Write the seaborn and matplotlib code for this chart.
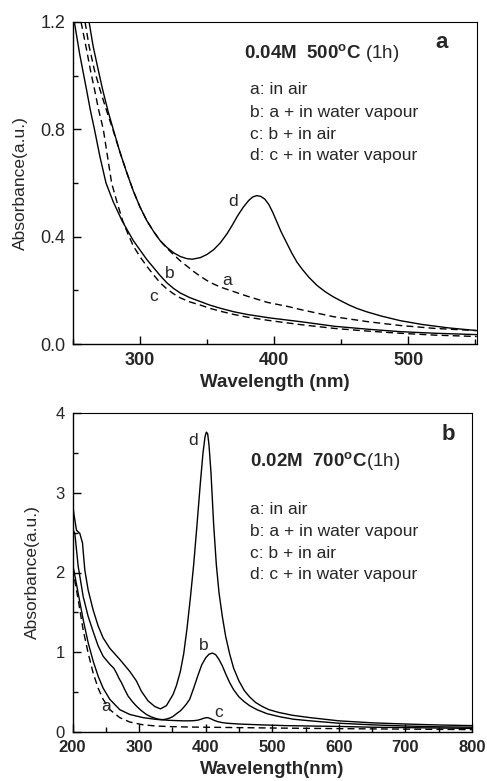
import matplotlib
matplotlib.use("Agg")
import matplotlib.pyplot as plt
from matplotlib.ticker import MultipleLocator, FormatStrFormatter
import seaborn as sns
import pandas as pd

# ---------------- Panel a data (0.04M, 500 C) ----------------
a_top_x = [259, 262, 266, 270, 275, 280, 285, 290, 295, 300, 305, 310, 315, 320, 325, 330, 335, 340, 345,
           352, 360, 370, 380, 395, 410, 420, 444, 470, 494, 520, 551]
a_top_y = [1.2, 1.11, 1.02, 0.95, 0.87, 0.795, 0.715, 0.64, 0.57, 0.51, 0.46, 0.42, 0.385, 0.357, 0.333,
           0.31, 0.29, 0.27, 0.252, 0.23, 0.212, 0.195, 0.178, 0.155, 0.14, 0.128, 0.102, 0.083, 0.069,
           0.058, 0.05]

b_top_x = [251, 255, 260, 263, 266, 270, 274.6, 280, 286.5, 291, 295, 300, 305, 310, 315, 320, 325, 330,
           337, 345, 352, 360, 370, 380, 397, 420, 445, 470, 494, 520, 551]
b_top_y = [1.2, 1.08, 0.95, 0.87, 0.80, 0.70, 0.60, 0.53, 0.46, 0.42, 0.385, 0.35, 0.315, 0.285, 0.255,
           0.228, 0.207, 0.19, 0.173, 0.158, 0.145, 0.133, 0.12, 0.11, 0.097, 0.083, 0.066, 0.055, 0.046,
           0.04, 0.035]

c_top_x = [256, 260, 263, 266, 269, 272.6, 275.7, 278.8, 283, 287, 291, 295, 300, 305, 310, 315, 320, 325,
           330, 337, 345, 352, 360, 370, 380, 397, 420, 445, 470, 494, 520, 551]
c_top_y = [1.2, 1.10, 1.02, 0.95, 0.875, 0.80, 0.70, 0.60, 0.525, 0.46, 0.41, 0.365, 0.325, 0.29, 0.258,
           0.228, 0.205, 0.187, 0.172, 0.157, 0.145, 0.133, 0.122, 0.11, 0.10, 0.087, 0.072, 0.058, 0.048,
           0.04, 0.033, 0.028]

d_top_x = [262, 265, 268, 272, 276, 280, 285, 290, 295, 300, 305, 310, 315, 320, 325, 330, 335, 339, 345,
           350, 355, 360, 365, 369, 373, 377, 381, 384, 387, 390, 393, 396, 399, 402, 405, 409, 413, 417,
           421, 426, 432, 438, 444, 450, 456, 462, 469, 480, 494, 510, 530, 551]
d_top_y = [1.2, 1.11, 1.04, 0.95, 0.87, 0.80, 0.715, 0.64, 0.57, 0.51, 0.46, 0.42, 0.385, 0.36, 0.34,
           0.326, 0.318, 0.316, 0.322, 0.334, 0.352, 0.378, 0.412, 0.445, 0.48, 0.51, 0.535, 0.548, 0.553,
           0.55, 0.54, 0.52, 0.49, 0.455, 0.42, 0.38, 0.34, 0.305, 0.278, 0.248, 0.218, 0.195, 0.176, 0.16,
           0.145, 0.132, 0.12, 0.104, 0.087, 0.073, 0.06, 0.05]

# ---------------- Panel b data (0.02M, 700 C) ----------------
a_bot_x = [200, 202, 208.5, 216, 223.5, 231, 238.5, 246, 256, 271, 286, 306, 326, 346, 376, 400, 450, 500,
           600, 700, 800]
a_bot_y = [2.05, 1.97, 1.66, 1.28, 0.99, 0.74, 0.55, 0.41, 0.28, 0.18, 0.125, 0.09, 0.075, 0.068, 0.062,
           0.06, 0.055, 0.05, 0.042, 0.036, 0.03]

b_bot_x = [200, 203.5, 208.5, 216, 223.5, 231, 238.5, 246, 256, 262, 266, 270, 273.5, 278, 283.5, 290, 296,
           303, 311, 318, 326, 331, 336, 341, 346, 351, 357, 362, 366, 371, 376, 382, 388, 394, 400, 405,
           410, 415, 420, 425, 430, 436, 442, 450, 458, 466, 477, 492, 512, 532, 557, 600, 650, 700, 750,
           800]
b_bot_y = [2.55, 2.49, 2.08, 1.7, 1.45, 1.26, 1.08, 0.95, 0.85, 0.8, 0.74, 0.67, 0.62, 0.54, 0.45, 0.38,
           0.325, 0.27, 0.22, 0.19, 0.167, 0.158, 0.155, 0.162, 0.175, 0.195, 0.235, 0.265, 0.3, 0.35, 0.41,
           0.55, 0.70, 0.84, 0.93, 0.975, 0.99, 0.97, 0.91, 0.83, 0.73, 0.62, 0.53, 0.44, 0.38, 0.33, 0.28,
           0.23, 0.19, 0.16, 0.14, 0.11, 0.09, 0.075, 0.065, 0.06]

c_bot_x = [200, 202, 208.5, 216, 223.5, 231, 238.5, 246, 256, 271, 286, 306, 326, 346, 366, 375, 382, 388,
           393, 397, 401, 404, 408, 413, 418, 425, 432, 450, 482, 520, 557, 600, 650, 700, 750, 800]
c_bot_y = [2.1, 2.03, 1.74, 1.41, 1.12, 0.89, 0.7, 0.55, 0.41, 0.28, 0.22, 0.18, 0.158, 0.146, 0.14, 0.14,
           0.142, 0.148, 0.16, 0.172, 0.18, 0.178, 0.165, 0.145, 0.13, 0.118, 0.11, 0.1, 0.09, 0.08, 0.075,
           0.07, 0.06, 0.055, 0.05, 0.045]

d_bot_x = [200, 202, 206, 211, 215, 218.5, 223.5, 231, 238.5, 246, 256, 271, 286, 296, 303.5, 313.5, 323.5,
           332, 341, 351, 356, 362, 367, 372, 377, 382, 387, 392, 396, 399, 401, 403, 405, 408, 412, 416,
           420, 425, 430, 436, 442, 450, 458, 466, 475, 485, 495, 510, 530, 557, 600, 650, 700, 750, 800]
d_bot_y = [2.88, 2.74, 2.53, 2.49, 2.37, 2.03, 1.78, 1.53, 1.33, 1.18, 1.05, 0.91, 0.76, 0.64, 0.51, 0.39,
           0.32, 0.29, 0.33, 0.47, 0.58, 0.76, 0.98, 1.3, 1.68, 2.1, 2.6, 3.12, 3.5, 3.7, 3.76, 3.74, 3.6,
           3.25, 2.6, 2.1, 1.75, 1.45, 1.2, 0.98, 0.8, 0.64, 0.52, 0.44, 0.37, 0.32, 0.28, 0.245, 0.21,
           0.18, 0.14, 0.115, 0.1, 0.088, 0.08]

legend_lines = ["a: in air", "b: a + in water vapour", "c: b + in air", "d: c + in water vapour"]

sns.set_style("ticks")
plt.rcParams['font.family'] = ['Liberation Sans', 'DejaVu Sans']
plt.rcParams['mathtext.fontset'] = 'custom'
plt.rcParams['mathtext.rm'] = 'Liberation Sans'
plt.rcParams['mathtext.bf'] = 'Liberation Sans:bold'
plt.rcParams['mathtext.it'] = 'Liberation Sans:italic'

fig = plt.figure(figsize=(4.87, 7.81), dpi=100)
ax1 = fig.add_axes([73 / 487, 1 - 344 / 781, 403.7 / 487, 322 / 781])
ax2 = fig.add_axes([72.5 / 487, 1 - 732 / 781, 399.5 / 487, 319 / 781])

LW = 1.0
DASH = (5, 3)


def draw(ax, xs, ys, dashed):
    df = pd.DataFrame({"wavelength": xs, "absorbance": ys})
    sns.lineplot(data=df, x="wavelength", y="absorbance", ax=ax, color="black", lw=LW,
                 estimator=None, sort=False)
    if dashed:
        ax.lines[-1].set_dashes(DASH)


draw(ax1, a_top_x, a_top_y, True)
draw(ax1, b_top_x, b_top_y, False)
draw(ax1, c_top_x, c_top_y, True)
draw(ax1, d_top_x, d_top_y, False)

draw(ax2, a_bot_x, a_bot_y, True)
draw(ax2, b_bot_x, b_bot_y, False)
draw(ax2, c_bot_x, c_bot_y, False)
draw(ax2, d_bot_x, d_bot_y, False)

# ---- axes styling ----
ax1.set_xlim(250, 551)
ax1.set_ylim(0, 1.2)
ax1.xaxis.set_major_locator(MultipleLocator(100))
ax1.xaxis.set_minor_locator(MultipleLocator(50))
ax1.yaxis.set_major_locator(MultipleLocator(0.4))
ax1.yaxis.set_minor_locator(MultipleLocator(0.2))
ax1.yaxis.set_major_formatter(FormatStrFormatter('%.1f'))
ax1.set_xticks([300, 400, 500])

ax2.set_xlim(200, 800)
ax2.set_ylim(0, 4)
ax2.xaxis.set_major_locator(MultipleLocator(100))
ax2.xaxis.set_minor_locator(MultipleLocator(50))
ax2.yaxis.set_major_locator(MultipleLocator(1))
ax2.yaxis.set_minor_locator(MultipleLocator(0.5))

for ax, fs in ((ax1, 13), (ax2, 12)):
    ax.tick_params(which='both', direction='in', top=False, right=False, color='black')
    ax.tick_params(which='major', length=6, width=1.0)
    ax.tick_params(which='minor', length=3.5, width=1.0)
    ax.tick_params(axis='x', which='major', pad=6, labelsize=fs)
    ax.tick_params(axis='y', which='major', pad=5.5, labelsize=fs)
    for lbl in ax.get_xticklabels():
        lbl.set_fontweight('bold')
    for s in ax.spines.values():
        s.set_linewidth(1.0)
        s.set_color('black')
    ax.spines['top'].set_linewidth(0.8)
    ax.spines['right'].set_linewidth(0.8)

ax1.set_xlabel("Wavelength (nm)", fontsize=13.5, fontweight='bold', va='center')
ax1.set_ylabel("Absorbance(a.u.)", fontsize=12.5, va='center')
ax1.xaxis.set_label_coords(0.5, (344 - 382) / 322)
ax1.yaxis.set_label_coords((20 - 73) / 403.7, 0.5)

ax2.set_xlabel("Wavelength(nm)", fontsize=13.5, fontweight='bold', va='center')
ax2.set_ylabel("Absorbance(a.u.)", fontsize=12.5, va='center')
ax2.xaxis.set_label_coords(0.5, (732 - 770) / 319)
ax2.yaxis.set_label_coords((32 - 72.5) / 399.5, 0.5)

# ---- annotations ----
ax1.text(0.4236, 0.905, r"$\mathbf{0.04M\ \ 500^{o}C}$ (1h)", transform=ax1.transAxes,
         fontsize=13.5, ha='left', va='center')
for i, t in enumerate(legend_lines):
    ax1.text(0.4385, [0.789, 0.720, 0.652, 0.584][i], t, transform=ax1.transAxes,
             fontsize=12.5, ha='left', va='center')
ax1.text(0.914, 0.935, "a", transform=ax1.transAxes, fontsize=16, fontweight='bold',
         ha='center', va='center')

ax2.text(0.444, 0.850, r"$\mathbf{0.02M\ \ 700^{o}C}$(1h)", transform=ax2.transAxes,
         fontsize=13.5, ha='left', va='center')
for i, t in enumerate(legend_lines):
    ax2.text(0.444, [0.699, 0.630, 0.560, 0.494][i], t, transform=ax2.transAxes,
             fontsize=12.5, ha='left', va='center')
ax2.text(0.94, 0.934, "b", transform=ax2.transAxes, fontsize=16, fontweight='bold',
         ha='center', va='center')

# curve labels
for ax, lab, x, y in ((ax1, "d", 369, 0.53), (ax1, "b", 322, 0.263), (ax1, "a", 364.7, 0.235),
                      (ax1, "c", 310, 0.176),
                      (ax2, "d", 381, 3.65), (ax2, "b", 397, 1.09), (ax2, "c", 419, 0.25),
                      (ax2, "a", 251, 0.32)):
    ax.text(x, y, lab, fontsize=12.5, ha='center', va='center')

fig.savefig("out.png", dpi=100)
